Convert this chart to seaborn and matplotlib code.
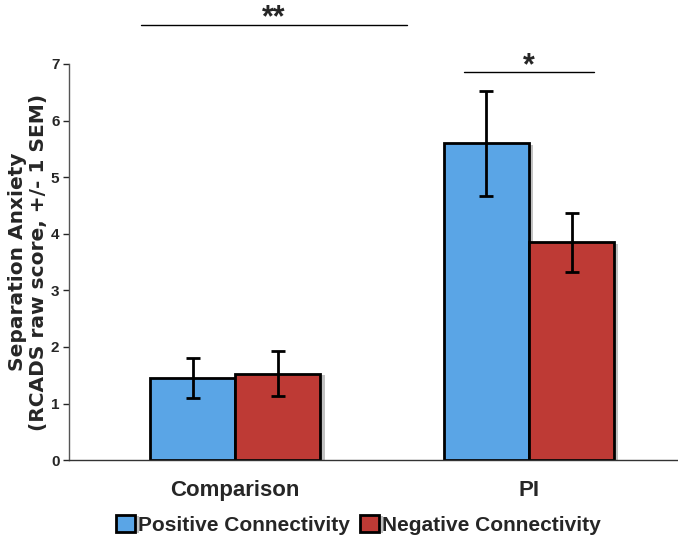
import matplotlib
matplotlib.use("Agg")
import matplotlib.pyplot as plt
import matplotlib.patheffects as pe
import seaborn as sns
import pandas as pd

groups = ["Comparison", "PI"]
connectivity = ["Positive Connectivity", "Negative Connectivity"]
positive_mean = [1.45, 5.60]
negative_mean = [1.53, 3.85]
positive_sem = [0.35, 0.93]
negative_sem = [0.40, 0.52]
colors = ["#5AA5E6", "#BE3A35"]

df = pd.DataFrame({
    "Group": groups * 2,
    "Connectivity": [connectivity[0]] * 2 + [connectivity[1]] * 2,
    "Score": positive_mean + negative_mean,
    "SEM": positive_sem + negative_sem,
})

sns.set_style("white")
plt.rcParams["font.family"] = ["Liberation Sans", "DejaVu Sans"]

fig = plt.figure(figsize=(6.78, 5.42), dpi=100)
ax = fig.add_axes([0.102, 0.151, 0.898, 0.731])

sns.barplot(data=df, x="Group", y="Score", hue="Connectivity", order=groups,
            hue_order=connectivity, palette=colors, width=0.58, errorbar=None,
            edgecolor="black", linewidth=2, ax=ax, saturation=1)

# shadow on the bars
for bar in ax.patches:
    bar.set_path_effects([pe.SimplePatchShadow(offset=(3, -1), shadow_rgbFace="#9a9a9a", alpha=0.6), pe.Normal()])

# error bars from the bar centers
bars = [p for p in ax.patches if p.get_height() > 0]
for i, hue in enumerate(connectivity):
    sub = df[df["Connectivity"] == hue].set_index("Group").loc[groups]
    for j, g in enumerate(groups):
        bar = bars[i * len(groups) + j]
        xc = bar.get_x() + bar.get_width() / 2
        ax.errorbar(xc, sub.loc[g, "Score"], yerr=sub.loc[g, "SEM"], fmt="none",
                    ecolor="black", elinewidth=2, capsize=5, capthick=2)

ax.set_ylim(0, 7)
ax.set_xlim(-0.565, 1.507)
ax.set_yticks(range(0, 8))
ax.tick_params(axis="y", direction="out", length=4, width=1, labelsize=11, pad=3, left=True)
ax.tick_params(axis="x", length=0, labelsize=16, pad=14)
for lab in ax.get_xticklabels() + ax.get_yticklabels():
    lab.set_fontweight("bold")
ax.set_xlabel("")
ax.set_ylabel("Separation Anxiety\n(RCADS raw score, +/- 1 SEM)", fontsize=14.5,
              fontweight="bold", linespacing=1.15, family="DejaVu Sans")
ax.yaxis.set_label_coords(-0.034, 0.5)
sns.despine(ax=ax)
ax.spines["left"].set_linewidth(1)
ax.spines["bottom"].set_linewidth(1)
ax.spines["left"].set_color("#555555")
ax.spines["bottom"].set_color("#333333")

# significance annotations
ax.plot([-0.32, 0.585], [7.69, 7.69], color="black", lw=1, clip_on=False)
ax.text(0.13, 7.55, "**", ha="center", va="bottom", fontsize=22, fontweight="bold")
ax.plot([0.78, 1.22], [6.85, 6.85], color="black", lw=1, clip_on=False)
ax.text(1.0, 6.70, "*", ha="center", va="bottom", fontsize=22, fontweight="bold")

handles, labels = ax.get_legend_handles_labels()
ax.legend(handles, labels, loc="lower center", bbox_to_anchor=(0.475, -0.235),
          ncol=2, frameon=False, handlelength=0.9, handleheight=0.9,
          handletextpad=0.15, columnspacing=0.5,
          prop={"weight": "bold", "size": 15})

fig.savefig("out.png", dpi=100)
